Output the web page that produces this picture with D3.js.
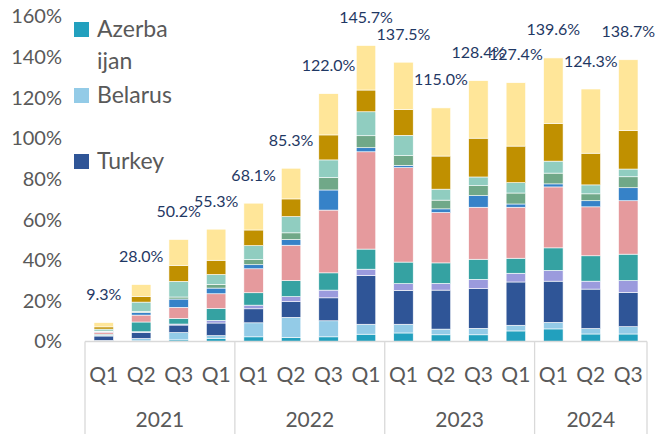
<!DOCTYPE html>
<html>
<head>
<meta charset="utf-8">
<script src="https://cdn.jsdelivr.net/npm/d3@7"></script>
<style>
  body { margin: 0; background: #fff; }
  svg { display: block; font-family: Lato, "Noto Sans", sans-serif; }
</style>
</head>
<body>
<svg id="chart" width="661" height="434"></svg>
<script>
// categories
var quarters = ["Q1","Q2","Q3","Q1","Q1","Q2","Q3","Q1","Q1","Q2","Q3","Q1","Q1","Q2","Q3"];
var years = ["2021","2022","2023","2024"];
var yearSpans = [4, 4, 4, 3];
var totals = [9.3, 28.0, 50.2, 55.3, 68.1, 85.3, 122.0, 145.7, 137.5, 115.0, 128.4, 127.4, 139.6, 124.3, 138.7];
var yTicks = [0, 20, 40, 60, 80, 100, 120, 140, 160];

// series, bottom to top (share in %)
var azerbaijan = [0.2, 0.3, 0.8, 1.6, 2.3, 2.0, 2.3, 3.6, 4.2, 3.3, 3.3, 5.2, 6.2, 3.7, 3.7];
var belarus    = [0.3, 1.2, 3.6, 1.3, 6.9, 9.9, 7.9, 4.9, 4.3, 2.8, 3.2, 2.8, 3.2, 2.7, 3.6];
var turkey     = [2.2, 3.0, 3.7, 6.2, 6.9, 7.7, 11.3, 24.0, 16.7, 19.2, 19.5, 21.3, 20.3, 19.4, 16.9];
var series4    = [0.3, 0.3, 0.5, 1.3, 1.8, 2.5, 3.8, 3.1, 3.3, 3.3, 4.6, 4.3, 5.3, 3.9, 5.8];
var series5    = [0.6, 4.8, 2.8, 5.9, 6.1, 7.9, 8.5, 9.9, 10.6, 10.1, 9.9, 7.4, 11.1, 12.5, 13.0];
var series6    = [1.0, 3.4, 5.4, 7.2, 11.8, 17.4, 30.9, 47.9, 46.5, 24.8, 25.6, 25.1, 30.0, 24.1, 26.3];
var series7    = [0.2, 1.3, 4.1, 2.8, 2.0, 2.8, 9.9, 2.0, 1.1, 1.8, 5.7, 1.6, 1.5, 3.0, 6.4];
var series8    = [0.3, 0.5, 1.0, 1.8, 2.5, 3.3, 6.1, 5.9, 4.8, 4.3, 4.9, 5.4, 5.3, 3.4, 5.4];
var series9    = [1.0, 4.6, 7.7, 4.9, 6.9, 8.0, 8.7, 11.8, 10.0, 5.4, 4.3, 5.1, 5.9, 4.4, 3.8];
var series10   = [1.1, 2.8, 7.9, 7.0, 7.7, 8.7, 12.3, 10.7, 12.7, 16.3, 19.1, 18.0, 18.6, 15.6, 18.9];
var series11   = [2.1, 5.8, 12.7, 15.3, 13.2, 15.1, 20.3, 21.9, 23.3, 23.7, 28.3, 31.2, 32.2, 31.6, 34.9];

var keys = ["Azerbaijan","Belarus","Turkey","s4","s5","s6","s7","s8","s9","s10","s11"];
var seriesList = [azerbaijan, belarus, turkey, series4, series5, series6, series7, series8, series9, series10, series11];
var colors = ["#22a0be","#93cbe7","#2f5597","#9b9bdd","#35a2a2","#e59a9d","#3682c8","#70a888","#90cdc0","#c09000","#ffe699"];

var rows = quarters.map(function(q, i){
  var r = {i: i};
  keys.forEach(function(k, j){ r[k] = seriesList[j][i]; });
  return r;
});

var svg = d3.select("#chart");

var x = d3.scaleBand().domain(d3.range(quarters.length)).range([85, 647])
  .paddingInner(0.48).paddingOuter(0.24);
var y = d3.scaleLinear().domain([0, 160]).range([341.5, 16.5]);
var color = d3.scaleOrdinal().domain(keys).range(colors);

var stacked = d3.stack().keys(keys)(rows);

svg.append("g").selectAll("g").data(stacked).join("g")
  .attr("fill", function(d){ return color(d.key); })
  .selectAll("rect").data(function(d){ return d; }).join("rect")
  .attr("x", function(d){ return x(d.data.i); })
  .attr("width", x.bandwidth())
  .attr("y", function(d){ return y(d[1]); })
  .attr("height", function(d){ return Math.max(0, y(d[0]) - y(d[1])); })
  .attr("stroke", "#fff").attr("stroke-width", 0.6);

// totals
svg.append("g").selectAll("text").data(totals).join("text")
  .attr("x", function(d, i){ return x(i) + x.bandwidth() / 2; })
  .attr("y", function(d){ return y(d) - 22.5; })
  .attr("text-anchor", "middle")
  .attr("font-size", 16).attr("fill", "#1f3864")
  .text(function(d){ return d.toFixed(1) + "%"; });

// y axis labels only
var yAxis = svg.append("g").attr("transform", "translate(62,0)")
  .call(d3.axisLeft(y).tickValues(yTicks).tickSize(0).tickPadding(0)
    .tickFormat(function(d){ return d + "%"; }));
yAxis.select(".domain").remove();
yAxis.selectAll("text").attr("font-size", 20).attr("fill", "#595959")
  .attr("font-family", "Lato, 'Noto Sans', sans-serif");

// category axis box
var step = x.step();
var x0 = x.range()[0];
var axisG = svg.append("g").attr("stroke", "#d9d9d9").attr("stroke-width", 1.3);
axisG.append("line").attr("x1", x0).attr("x2", x.range()[1]).attr("y1", y(0)).attr("y2", y(0));
var cum = [0];
yearSpans.forEach(function(s){ cum.push(cum[cum.length - 1] + s); });
axisG.selectAll("line.sep").data(cum).join("line").attr("class", "sep")
  .attr("x1", function(d){ return x0 + d * step; })
  .attr("x2", function(d){ return x0 + d * step; })
  .attr("y1", y(0)).attr("y2", 434);

svg.append("g").selectAll("text").data(quarters).join("text")
  .attr("x", function(d, i){ return x(i) + x.bandwidth() / 2; })
  .attr("y", 381.7)
  .attr("text-anchor", "middle").attr("font-size", 21).attr("fill", "#595959")
  .text(function(d){ return d; });

svg.append("g").selectAll("text").data(years).join("text")
  .attr("x", function(d, i){ return x0 + (cum[i] + cum[i + 1]) / 2 * step; })
  .attr("y", 427.3)
  .attr("text-anchor", "middle").attr("font-size", 21).attr("fill", "#595959")
  .text(function(d){ return d; });

// legend (only the first three series are shown)
var legendItems = [
  {key: "Azerbaijan", lines: ["Azerba", "ijan"], top: 22},
  {key: "Belarus", lines: ["Belarus"], top: 88},
  {key: "Turkey", lines: ["Turkey"], top: 154}
];
var lg = svg.append("g").selectAll("g").data(legendItems).join("g");
lg.append("rect").attr("x", 74).attr("y", function(d){ return d.top; })
  .attr("width", 15).attr("height", 15)
  .attr("fill", function(d){ return color(d.key); });
lg.each(function(d){
  var g = d3.select(this);
  d.lines.forEach(function(t, k){
    g.append("text").attr("x", 97).attr("y", d.top + 15.3 + k * 32)
      .attr("font-size", 23).attr("fill", "#595959").text(t);
  });
});
</script>
</body>
</html>
